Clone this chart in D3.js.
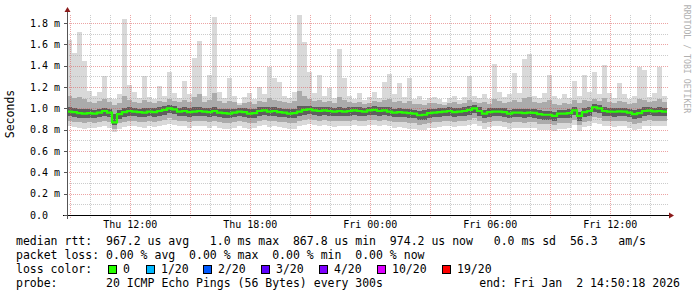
<!DOCTYPE html>
<html>
<head>
  <title>Smokeping latency</title>
  <script src="https://d3js.org/d3.v7.min.js"></script>
  <style>
    body { margin: 0; background: #fff; }
    text { font-family: "DejaVu Sans Mono", monospace; fill: #000; white-space: pre; }
    .legend { font-size: 11.5px; }
    .tick-label { font-size: 10px; }
  </style>
</head>
<body>
<script>
// 15 minute samples, Thu Jan 1 2026 08:50:18 -> Fri Jan 2 2026 14:50:18 (values in microseconds)
var startTime = Date.UTC(2026, 0, 1, 8, 50, 18);
var stepMs = 15 * 60 * 1000;

var pingMax = [1640,1520,1720,1440,1160,1120,1150,1300,1100,1090, 1130,1840,1220,1150,1100,1300,1110,1090,1210,1120,
  1340,1140,1100,1260,1130,1470,1630,1120,1310,1860, 1150,1100,1280,1120,1050,1110,1140,1090,1200,1130,
  1390,1280,1250,1120,1100,1150,1900,1620,1340,1140, 1310,1120,1190,1100,1560,1280,1120,1090,1140,1080,
  1110,1150,1100,1250,1320,1130,1240,1110,1280,1090, 1120,1080,1100,1110,1090,1060,1100,1120,1080,1110,
  1300,1120,1100,1130,1090,1420,1150,1110,1130,1330, 1140,1460,1510,1120,1100,1140,1310,1120,1090,1130,
  1100,1260,1120,1310,1150,1340,1130,1410,1140,1100, 1240,1130,1090,1120,1390,1360,1110,1140,1390,1120];

var pingHi2 = [1120,1100,1110,1090,1060,1050,1070,1090,1060,1030, 1050,1120,1080,1060,1050,1080,1060,1050,1070,1060,
  1090,1070,1060,1080,1060,1110,1130,1060,1080,1140, 1070,1050,1070,1060,1030,1050,1060,1040,1070,1060,
  1100,1080,1070,1060,1050,1070,1160,1120,1090,1070, 1080,1060,1070,1050,1110,1080,1060,1050,1060,1040,
  1050,1070,1060,1080,1090,1060,1070,1050,1070,1040, 1040,1030,1050,1050,1040,1030,1050,1060,1040,1050,
  1080,1060,1050,1060,1040,1090,1070,1050,1060,1080, 1060,1100,1110,1060,1050,1060,1080,1040,1030,1050,
  1040,1080,1050,1080,1070,1090,1070,1100,1060,1050, 1070,1060,1040,1050,1090,1080,1060,1070,1090,1060];

var pingHi1 = [1010,1000,995,990,990,985,995,1005,995,950, 985,1005,1010,1000,995,1000,1005,1000,1010,1020,
  1030,1025,1005,1010,1000,1010,1015,1005,1000,1015, 995,990,990,995,1000,1000,990,990,1010,1015,
  1010,1010,1000,995,990,995,1020,1025,1025,1015, 1010,1015,1010,1005,1015,1005,1010,1015,1010,1005,
  1015,1020,1010,1015,1010,995,1000,995,995,985, 975,980,990,995,1000,1005,1010,1000,1005,1010,
  1020,1035,1010,985,1000,1005,1005,1000,985,995, 995,990,995,995,980,975,975,965,985,985,
  990,1015,970,1000,1010,1045,1035,1010,1005,1005, 1005,1005,995,985,995,1010,1012,1005,1010,1005];

var pingMedian = [970,965,955,950,955,950,960,975,960,868, 945,965,975,970,965,960,970,965,975,985,
  1000,990,970,975,965,970,975,970,965,975, 960,955,950,960,970,965,950,955,975,980,
  970,975,965,960,950,955,970,985,990,980, 975,980,975,970,975,970,975,980,975,970,
  980,985,975,980,970,960,965,960,955,950, 935,940,955,960,965,970,975,965,970,975,
  985,1000,975,950,965,970,970,965,950,960, 960,955,960,958,945,940,940,930,950,950,
  955,980,930,965,975,1010,1000,975,970,968, 972,970,960,945,955,975,978,972,975,970];

var pingLo1 = [925,920,910,905,910,905,915,930,915,840, 900,920,930,925,920,915,925,920,930,940,
  955,945,925,930,920,925,930,925,920,930, 915,910,905,915,925,920,905,910,930,935,
  925,930,920,915,905,910,925,940,945,935, 930,935,930,925,930,925,930,935,930,925,
  935,940,930,935,925,915,920,915,910,905, 890,895,910,915,920,925,930,920,925,930,
  940,955,930,905,920,925,925,920,905,915, 915,910,915,913,900,895,895,885,905,905,
  910,935,885,920,930,965,955,930,925,923, 927,925,915,900,910,930,933,927,930,925];

var pingLo2 = [880,875,870,865,870,865,875,885,870,810, 860,875,885,880,875,870,880,875,885,895,
  905,895,880,885,875,880,885,880,875,885, 870,865,860,870,880,875,860,865,885,890,
  880,885,875,870,860,865,880,895,900,890, 885,890,885,880,885,880,885,890,885,880,
  890,895,885,890,880,870,875,870,865,860, 845,850,865,870,875,880,885,875,880,885,
  895,905,885,860,875,880,880,875,860,870, 870,865,870,868,855,850,850,840,860,860,
  865,890,840,875,885,915,905,885,880,878, 882,880,870,855,865,885,888,882,885,880];

var pingMin = [830,825,815,810,820,815,825,835,820,780, 805,825,835,830,825,815,830,825,835,845,
  855,845,830,835,820,830,835,830,820,830, 815,810,805,815,830,820,805,815,835,840,
  825,835,825,815,805,810,830,845,850,840, 835,840,830,825,835,830,835,840,835,830,
  840,845,835,840,830,820,825,815,810,805, 795,800,815,820,825,830,835,825,830,835,
  845,855,835,810,825,830,830,825,810,815, 820,815,820,815,800,795,800,790,805,810,
  815,840,790,825,835,865,855,835,830,825, 830,830,815,800,810,835,838,830,835,830];

var yTicks = [0, 0.2, 0.4, 0.6, 0.8, 1.0, 1.2, 1.4, 1.6, 1.8];
var yTickLabels = ["0.0  ", "0.2 m", "0.4 m", "0.6 m", "0.8 m", "1.0 m", "1.2 m", "1.4 m", "1.6 m", "1.8 m"];

var legendLines = [
  "median rtt:  967.2 us avg   1.0 ms max  867.8 us min  974.2 us now   0.0 ms sd  56.3   am/s",
  "packet loss: 0.00 % avg  0.00 % max  0.00 % min  0.00 % now"
];
var lossLabels = ["0", "1/20", "2/20", "3/20", "4/20", "10/20", "19/20"];
var lossColors = ["#26ff00", "#00b8ff", "#0059ff", "#5e00ff", "#7e00ff", "#dd00ff", "#ff0000"];
var lossBoxX = [108, 146, 203, 261, 319, 377, 442];
var probeText = "probe:       20 ICMP Echo Pings (56 Bytes) every 300s";
var endText = "end: Fri Jan  2 14:50:18 2026";

var width = 697, height = 297;
var plot = {left: 67, right: 667, top: 15, bottom: 215};

var svg = d3.select("body").append("svg")
  .attr("width", width)
  .attr("height", height);

var endTime = startTime + pingMedian.length * stepMs;
var x = d3.scaleUtc()
  .domain([new Date(startTime), new Date(endTime)])
  .range([plot.left, plot.right]);
var y = d3.scaleLinear()
  .domain([0, 1.875])
  .range([plot.bottom, plot.top]);

function t(i) { return new Date(startTime + i * stepMs); }
function ms(v) { return Math.min(v / 1000, 1.875); }

// smoke bands, outer to inner
var bands = [
  {lo: pingMin, hi: pingMax, color: "#d9d9d9"},
  {lo: pingLo2, hi: pingHi2, color: "#ababab"},
  {lo: pingLo1, hi: pingHi1, color: "#5e5e5e"}
];
var idx = d3.range(pingMedian.length);

bands.forEach(function(b) {
  svg.append("g").selectAll("rect")
    .data(idx)
    .enter().append("rect")
    .attr("x", function(i) { return x(t(i)); })
    .attr("width", function(i) { return x(t(i + 1)) - x(t(i)); })
    .attr("y", function(i) { return y(ms(b.hi[i])); })
    .attr("height", function(i) { return y(ms(b.lo[i])) - y(ms(b.hi[i])); })
    .attr("fill", b.color)
    .attr("shape-rendering", "crispEdges");
});

// grid
var grid = svg.append("g").attr("shape-rendering", "crispEdges");
var minorY = d3.range(0.1, 1.875, 0.2);
grid.selectAll(".hminor").data(minorY).enter().append("line")
  .attr("x1", plot.left).attr("x2", plot.right + 1)
  .attr("y1", function(d) { return Math.round(y(d)) + 0.5; })
  .attr("y2", function(d) { return Math.round(y(d)) + 0.5; })
  .attr("stroke", "rgba(170,170,170,0.6)").attr("stroke-dasharray", "1,1");
grid.selectAll(".hmajor").data(yTicks.slice(1)).enter().append("line")
  .attr("x1", plot.left).attr("x2", plot.right + 1)
  .attr("y1", function(d) { return Math.round(y(d)) + 0.5; })
  .attr("y2", function(d) { return Math.round(y(d)) + 0.5; })
  .attr("stroke", "rgba(220,90,90,0.55)").attr("stroke-dasharray", "1,1");

var hours = d3.utcHour.range(new Date(startTime), new Date(endTime));
grid.selectAll(".vgrid").data(hours).enter().append("line")
  .attr("x1", function(d) { return Math.round(x(d)) + 0.5; })
  .attr("x2", function(d) { return Math.round(x(d)) + 0.5; })
  .attr("y1", plot.top).attr("y2", plot.bottom + 3)
  .attr("stroke", function(d) {
    return d.getUTCHours() % 3 === 0 ? "rgba(220,90,90,0.55)" : "rgba(170,170,170,0.6)";
  })
  .attr("stroke-dasharray", "1,1");

// median line
var medianLine = d3.line()
  .x(function(d) { return x(d[0]); })
  .y(function(d) { return y(d[1] / 1000); })
  .curve(d3.curveStepAfter);
var medPts = idx.map(function(i) { return [t(i), pingMedian[i]]; });
medPts.push([new Date(endTime), pingMedian[pingMedian.length - 1]]);
svg.append("path")
  .datum(medPts)
  .attr("d", medianLine)
  .attr("fill", "none")
  .attr("stroke", lossColors[0])
  .attr("stroke-width", 2.2);

// axes
svg.append("line")
  .attr("x1", plot.left - 4).attr("x2", plot.right + 3)
  .attr("y1", plot.bottom + 0.5).attr("y2", plot.bottom + 0.5)
  .attr("stroke", "#000").attr("shape-rendering", "crispEdges");
svg.append("line")
  .attr("x1", plot.left + 0.5).attr("x2", plot.left + 0.5)
  .attr("y1", plot.bottom + 4).attr("y2", plot.top - 4)
  .attr("stroke", "#555").attr("shape-rendering", "crispEdges");
svg.append("path")
  .attr("d", "M" + (plot.right + 2) + "," + (plot.bottom - 2.5) + "L" + (plot.right + 7) + "," + (plot.bottom + 0.5) +
    "L" + (plot.right + 2) + "," + (plot.bottom + 3.5) + "Z")
  .attr("fill", "#8b1a1a");
svg.append("path")
  .attr("d", "M" + (plot.left - 2.5) + "," + (plot.top - 3) + "L" + (plot.left + 0.5) + "," + (plot.top - 8) +
    "L" + (plot.left + 3.5) + "," + (plot.top - 3) + "Z")
  .attr("fill", "#8b1a1a");

// y tick marks and labels
svg.selectAll(".ytick").data(yTicks).enter().append("line")
  .attr("x1", plot.left - 3).attr("x2", plot.left)
  .attr("y1", function(d) { return Math.round(y(d)) + 0.5; })
  .attr("y2", function(d) { return Math.round(y(d)) + 0.5; })
  .attr("stroke", "#555").attr("shape-rendering", "crispEdges");
svg.selectAll(".ylabel").data(yTicks).enter().append("text")
  .attr("class", "tick-label")
  .attr("x", 60)
  .attr("y", function(d) { return y(d) + 3.5; })
  .attr("text-anchor", "end")
  .text(function(d, i) { return yTickLabels[i]; });

// x labels
var labelHours = d3.utcHour.every(6).range(new Date(startTime), new Date(endTime));
svg.selectAll(".xlabel").data(labelHours).enter().append("text")
  .attr("class", "tick-label")
  .attr("x", function(d) { return x(d); })
  .attr("y", 228)
  .attr("text-anchor", "middle")
  .text(d3.utcFormat("%a %H:%M"));

// axis title and watermark
svg.append("text")
  .attr("class", "legend")
  .attr("transform", "translate(14,114) rotate(-90)")
  .attr("text-anchor", "middle")
  .text("Seconds");
svg.append("text")
  .attr("transform", "translate(684,59) rotate(90)")
  .attr("text-anchor", "middle")
  .style("font-size", "8.2px")
  .style("fill", "#b0b0b0")
  .text("RRDTOOL / TOBI OETIKER");

// legend
legendLines.forEach(function(line, i) {
  svg.append("text").attr("class", "legend")
    .attr("x", 16).attr("y", 245 + i * 14)
    .text(line);
});
svg.append("text").attr("class", "legend")
  .attr("x", 16).attr("y", 273)
  .text("loss color:");
lossLabels.forEach(function(lbl, i) {
  svg.append("rect")
    .attr("x", lossBoxX[i] + 0.5).attr("y", 265.5)
    .attr("width", 8).attr("height", 8)
    .attr("fill", lossColors[i])
    .attr("stroke", "#000");
  svg.append("text").attr("class", "legend")
    .attr("x", lossBoxX[i] + 15).attr("y", 273)
    .text(lbl);
});
svg.append("text").attr("class", "legend")
  .attr("x", 16).attr("y", 287)
  .text(probeText);
svg.append("text").attr("class", "legend")
  .attr("x", 680).attr("y", 287)
  .attr("text-anchor", "end")
  .text(endText);
</script>
</body>
</html>
